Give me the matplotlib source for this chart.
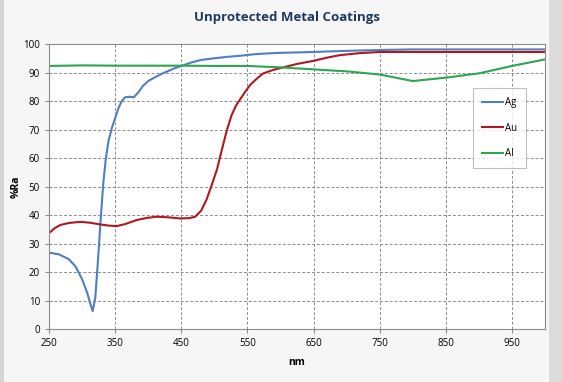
import matplotlib.pyplot as plt
from matplotlib.patches import Rectangle

# Ag
ag_nm = [250, 265, 280, 290, 300, 308, 313, 316, 320, 324, 328, 332, 336, 340, 345,
         350, 355, 360, 365, 372, 378, 385, 392, 400, 410, 420, 430, 440, 450, 465,
         480, 500, 520, 540, 560, 580, 600, 650, 700, 750, 800, 900, 1000]
ag_ra = [26.8, 26.2, 24.5, 22.0, 17.5, 12.5, 8.5, 6.3, 11.0, 24.0, 38.0, 51.0, 60.0, 66.0, 70.5,
         74.0, 77.5, 80.0, 81.3, 81.5, 81.3, 83.0, 85.3, 87.0, 88.3, 89.5, 90.5, 91.5, 92.3, 93.5,
         94.4, 95.0, 95.5, 95.9, 96.4, 96.7, 96.9, 97.2, 97.6, 97.9, 98.1, 98.1, 98.1]

# Au
au_nm = [250, 258, 267, 280, 297, 312, 327, 340, 352, 365, 382, 398, 413, 430, 448,
         462, 471, 480, 488, 496, 504, 512, 519, 526, 533, 539, 546, 554, 564, 574,
         589, 604, 625, 650, 670, 690, 720, 750, 800, 900, 1000]
au_ra = [33.6, 35.3, 36.5, 37.2, 37.6, 37.3, 36.7, 36.3, 36.1, 36.8, 38.2, 39.0, 39.4, 39.2, 38.8,
         38.9, 39.4, 41.5, 45.3, 50.5, 56.0, 63.5, 69.8, 75.0, 78.5, 80.6, 83.0, 85.6, 87.8, 89.7,
         90.9, 91.8, 93.0, 94.1, 95.2, 96.1, 96.8, 97.2, 97.2, 97.2, 97.2]

# Al
al_nm = [250, 300, 350, 400, 450, 500, 550, 600, 650, 700, 750, 800, 850, 900, 950, 1000]
al_ra = [92.3, 92.5, 92.4, 92.4, 92.4, 92.3, 92.3, 91.8, 91.1, 90.4, 89.3, 87.0, 88.2, 89.7, 92.3, 94.6]

series_names = ['Ag', 'Au', 'Al']
series_colors = ['#4f7fbe', '#ae1820', '#2fa552']

fig = plt.figure(figsize=(5.62, 3.82), dpi=100, facecolor='#f6f6f6')
# side shading of the chart frame
fig.patches.append(Rectangle((0, 0), 0.007, 1, transform=fig.transFigure,
                             facecolor='#d4d4d4', edgecolor='none', zorder=0))
fig.patches.append(Rectangle((0.976, 0), 0.024, 1, transform=fig.transFigure,
                             facecolor='#dcdcdc', edgecolor='none', zorder=0))

ax = fig.add_axes([0.0872, 0.1387, 0.8826, 0.7461])
ax.set_facecolor('white')

ax.plot(ag_nm, ag_ra, color=series_colors[0], lw=1.5, label=series_names[0])
ax.plot(au_nm, au_ra, color=series_colors[1], lw=1.5, label=series_names[1])
ax.plot(al_nm, al_ra, color=series_colors[2], lw=1.5, label=series_names[2])

ax.set_xlim(250, 1000)
ax.set_ylim(0, 100)
ax.set_xticks(range(250, 1000, 100))
ax.set_yticks(range(0, 101, 10))
ax.grid(True, color='#8c8c8c', ls=(0, (3, 2)), lw=0.7)
ax.set_axisbelow(True)
for s in ax.spines.values():
    s.set_color('#8c8c8c')
    s.set_linewidth(0.8)
ax.tick_params(colors='#8c8c8c', labelcolor='black', labelsize=7, length=3)
for lab in ax.get_xticklabels() + ax.get_yticklabels():
    lab.set_family('Open Sans')

ax.set_xlabel('nm', fontsize=7.5, fontweight='bold', family='Open Sans', labelpad=6)
ax.set_ylabel('%Ra', fontsize=7.5, fontweight='bold', family='Open Sans')
ax.yaxis.set_label_coords(-0.056, 0.5)
fig.suptitle('Unprotected Metal Coatings', x=0.51, y=0.972, fontsize=9.5, fontweight='bold',
             color='#1f3a60', family='Open Sans')

leg = ax.legend(loc='upper left', bbox_to_anchor=(0.855, 0.845), frameon=True, fancybox=False,
                fontsize=7, handlelength=2.2, handletextpad=0.2, labelspacing=1.5,
                borderpad=0.9, borderaxespad=0)
leg.get_frame().set_edgecolor('#b0b0b0')
leg.get_frame().set_linewidth(0.8)
for t in leg.get_texts():
    t.set_family('Open Sans')

fig.savefig('out.png', dpi=100, facecolor=fig.get_facecolor())
